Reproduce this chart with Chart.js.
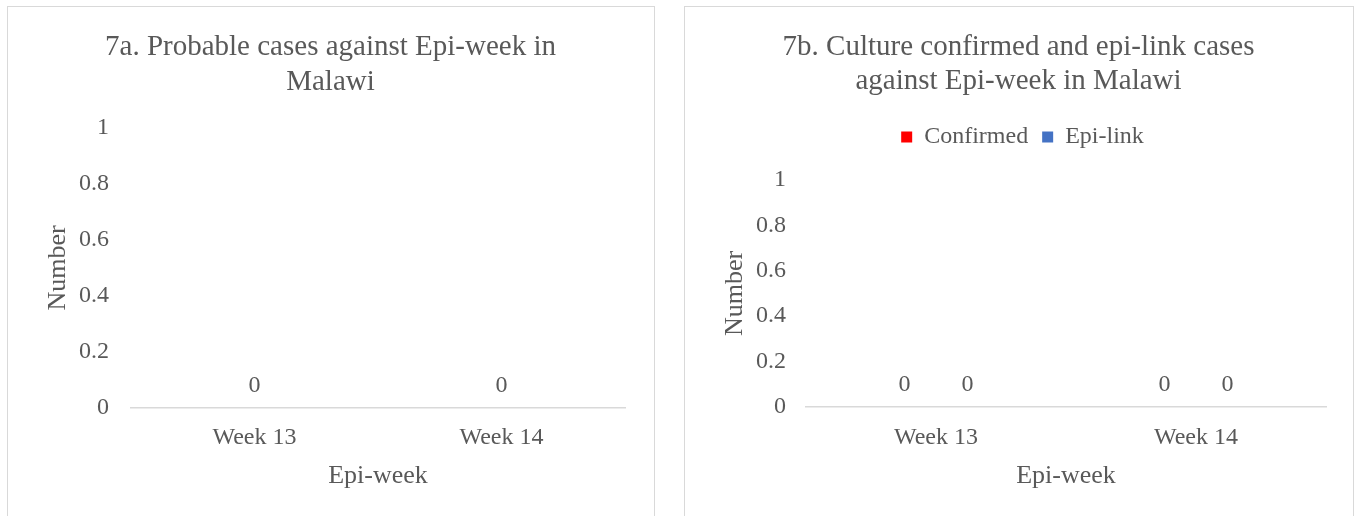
<!DOCTYPE html>
<html>
<head>
<meta charset="utf-8">
<script src="https://cdn.jsdelivr.net/npm/chart.js@4"></script>
<style>
  html, body { margin: 0; padding: 0; background: #ffffff; }
  body { width: 1354px; height: 516px; position: relative; overflow: hidden; }
  .panel { position: absolute; border: 1px solid #d9d9d9; box-sizing: border-box; }
  canvas { position: absolute; }
</style>
</head>
<body>
<div class="panel" style="left:7px; top:6px; width:648px; height:540px;"></div>
<div class="panel" style="left:684px; top:6px; width:670px; height:540px;"></div>
<canvas id="chartA" width="647" height="510" style="left:7px; top:6px;"></canvas>
<canvas id="chartB" width="669" height="510" style="left:684px; top:6px;"></canvas>
<script>
const categories = ['Week 13', 'Week 14'];
const probableCases = [0, 0];
const confirmedCases = [0, 0];
const epiLinkCases = [0, 0];
const yTickValues = [0, 0.2, 0.4, 0.6, 0.8, 1];
const yTickLabels = ['0', '0.2', '0.4', '0.6', '0.8', '1'];

const titleA = ['7a. Probable cases against Epi-week in', 'Malawi'];
const titleB = ['7b. Culture confirmed and epi-link cases', 'against Epi-week in Malawi'];

const FONT = "'Liberation Serif', 'Times New Roman', serif";
const TEXT = '#595959';
Chart.defaults.font.family = FONT;
Chart.defaults.color = TEXT;

const valueLabels = {
  id: 'valueLabels',
  afterDatasetsDraw(chart) {
    const ctx = chart.ctx;
    ctx.save();
    ctx.font = '24px ' + FONT;
    ctx.fillStyle = TEXT;
    ctx.textAlign = 'center';
    ctx.textBaseline = 'middle';
    chart.data.datasets.forEach((ds, i) => {
      const meta = chart.getDatasetMeta(i);
      meta.data.forEach((el, j) => {
        ctx.fillText(String(ds.data[j]), el.x, el.y - 22);
      });
    });
    ctx.restore();
  }
};

const legendShift = {
  id: 'legendShift',
  afterLayout(chart, args, opts) {
    const l = chart.legend;
    if (l && opts && opts.dx) { l.left += opts.dx; l.right += opts.dx; }
  }
};

function dummy(axis, position, size) {
  return {
    type: 'linear', axis: axis, position: position, display: true,
    grid: { display: false }, border: { display: false }, ticks: { display: false },
    afterFit(s) { if (axis === 'x') s.height = size; else s.width = size; }
  };
}

function makeScales(yWidth, yTickPad, xHeight, xTickPad, rightW, topH) {
  const scales = {
    x: {
      type: 'category',
      position: 'bottom',
      grid: { display: false, drawTicks: false },
      border: { display: true, color: '#d9d9d9', width: 1.5 },
      ticks: { font: { size: 24, lineHeight: 1.2 }, padding: xTickPad, color: TEXT },
      title: { display: true, text: 'Epi-week', font: { size: 26, lineHeight: 1.2 }, color: TEXT, padding: { top: 0, bottom: 24.4 } },
      afterFit(s) { s.height = xHeight; }
    },
    y: {
      type: 'linear',
      position: 'left',
      min: 0, max: 1,
      grid: { display: false, drawTicks: false },
      border: { display: false },
      ticks: {
        font: { size: 24, lineHeight: 1.2 }, padding: yTickPad, color: TEXT,
        callback: (v, i) => yTickLabels[i]
      },
      afterBuildTicks(s) { s.ticks = yTickValues.map(v => ({ value: v })); },
      title: { display: true, text: 'Number', font: { size: 26, lineHeight: 1.2 }, color: TEXT, padding: { top: 36, bottom: 0 } },
      afterFit(s) { s.width = yWidth; }
    },
    yRight: dummy('y', 'right', rightW)
  };
  if (topH) scales.xTop = dummy('x', 'top', topH);
  return scales;
}

new Chart(document.getElementById('chartA'), {
  type: 'bar',
  data: {
    labels: categories,
    datasets: [{
      label: 'Probable',
      data: probableCases,
      backgroundColor: '#4472c4',
      borderWidth: 0,
      xAxisID: 'x', yAxisID: 'y'
    }]
  },
  options: {
    responsive: false,
    animation: false,
    layout: { padding: 0 },
    plugins: {
      legend: { display: false },
      tooltip: { enabled: false },
      title: {
        display: true, text: titleA, color: TEXT,
        font: { size: 29, lineHeight: 1.2, weight: 'normal' },
        padding: { top: 24, bottom: 28.4 }
      }
    },
    scales: makeScales(124, 22, 108, 15.6, 29, 0)
  },
  plugins: [valueLabels]
});

new Chart(document.getElementById('chartB'), {
  type: 'bar',
  data: {
    labels: categories,
    datasets: [{
      label: 'Confirmed',
      data: confirmedCases,
      backgroundColor: '#ff0000',
      borderWidth: 0,
      categoryPercentage: 0.485,
      xAxisID: 'x', yAxisID: 'y'
    }, {
      label: 'Epi-link',
      data: epiLinkCases,
      backgroundColor: '#4472c4',
      borderWidth: 0,
      categoryPercentage: 0.485,
      xAxisID: 'x', yAxisID: 'y'
    }]
  },
  options: {
    responsive: false,
    animation: false,
    layout: { padding: 0 },
    plugins: {
      legend: {
        display: true, position: 'top',
        labels: { boxWidth: 11, boxHeight: 11, padding: 14, color: TEXT, font: { size: 24, lineHeight: 1.2 } }
      },
      legendShift: { dx: 4 },
      tooltip: { enabled: false },
      title: {
        display: true, text: titleB, color: TEXT,
        font: { size: 29, lineHeight: 1.2, weight: 'normal' },
        padding: { top: 23.6, bottom: 11.8 }
      }
    },
    scales: makeScales(122, 20, 109, 16.6, 27, 21)
  },
  plugins: [valueLabels, legendShift]
});
</script>
</body>
</html>
